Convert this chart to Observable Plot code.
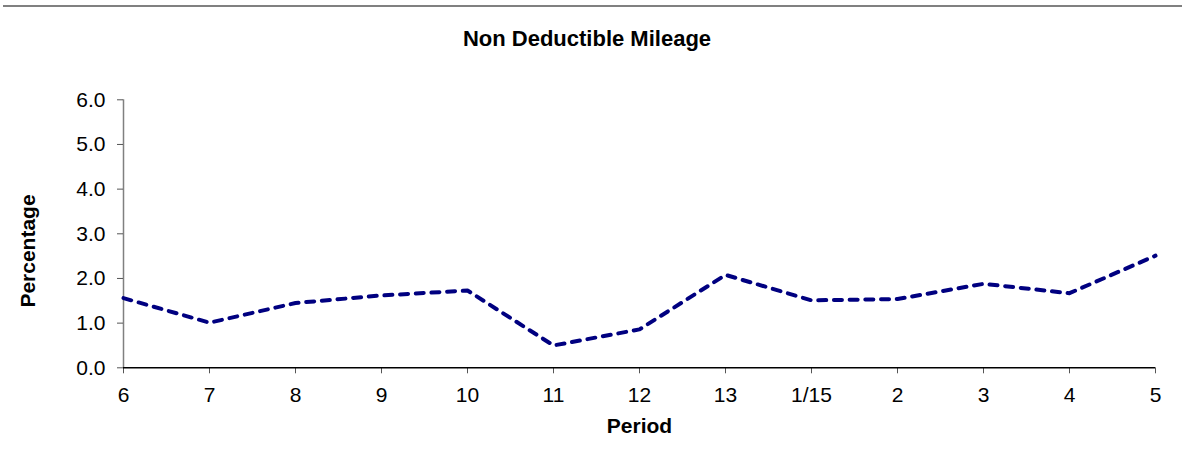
<!DOCTYPE html>
<html>
<head>
<meta charset="utf-8">
<script src="https://cdn.jsdelivr.net/npm/d3@7"></script>
<script src="https://cdn.jsdelivr.net/npm/@observablehq/plot@0.6"></script>
<style>
  html, body { margin: 0; padding: 0; background: #fff; }
  #wrap { position: relative; width: 1182px; height: 468px; overflow: hidden; font-family: Arial, "Liberation Sans", sans-serif; }
  #topline { position: absolute; left: 3px; top: 5px; width: 1179px; height: 2px; background: #808080; }
  #title { position: absolute; left: 0; width: 1174px; top: 28px; line-height: 22px; font-size: 22px; font-weight: bold; text-align: center; color: #000; }
  #ylabel { position: absolute; left: 27px; top: 251px; transform: translate(-50%, -50%) rotate(-90deg); font-size: 21px; line-height: 21px; font-weight: bold; white-space: nowrap; color: #000; }
  #chart { position: absolute; left: 0; top: 70px; }
  #chart svg { overflow: visible; }
</style>
</head>
<body>
<div id="wrap">
  <div id="topline"></div>
  <div id="title">Non Deductible Mileage</div>
  <div id="chart"></div>
  <div id="ylabel"></div>
</div>
<script>
const periods = ["6", "7", "8", "9", "10", "11", "12", "13", "1/15", "2", "3", "4", "5"];
const values = [1.56, 1.01, 1.45, 1.62, 1.73, 0.50, 0.86, 2.08, 1.51, 1.54, 1.88, 1.67, 2.51];
const yTicks = [0, 1, 2, 3, 4, 5, 6];
const xLabel = "Period";
const yLabel = "Percentage";

const data = periods.map((p, i) => ({period: p, value: values[i]}));

document.getElementById("ylabel").textContent = yLabel;

const chart = Plot.plot({
  width: 1182,
  height: 398,
  marginLeft: 123,
  marginRight: 27,
  marginTop: 29.3,
  marginBottom: 100.7,
  style: {fontFamily: "Arial, 'Liberation Sans', sans-serif", fontSize: "21px", color: "#000", background: "transparent"},
  x: {type: "point", domain: periods, padding: 0},
  y: {domain: [0, 6]},
  marks: [
    Plot.ruleX([periods[0]], {y1: 0, y2: 6, stroke: "#808080", strokeWidth: 1.5}),
    Plot.axisX({ticks: periods, tickSize: 6, tickPadding: 13, stroke: "#555", label: null, fontSize: 21}),
    Plot.axisY({ticks: yTicks, tickFormat: d3.format(".1f"), tickSize: 6, tickPadding: 12, stroke: "#555", label: null, fontSize: 21}),
    Plot.ruleY([0], {stroke: "#000", strokeWidth: 1.5}),
    Plot.line(data, {x: "period", y: "value", stroke: "#000080", strokeWidth: 4, strokeDasharray: "8,7.7", strokeLinecap: "round", strokeLinejoin: "round"}),
    Plot.text([xLabel], {frameAnchor: "bottom", dy: 65, text: d => d, fontWeight: "bold", fontSize: 21})
  ]
});
document.getElementById("chart").appendChild(chart);
</script>
</body>
</html>
